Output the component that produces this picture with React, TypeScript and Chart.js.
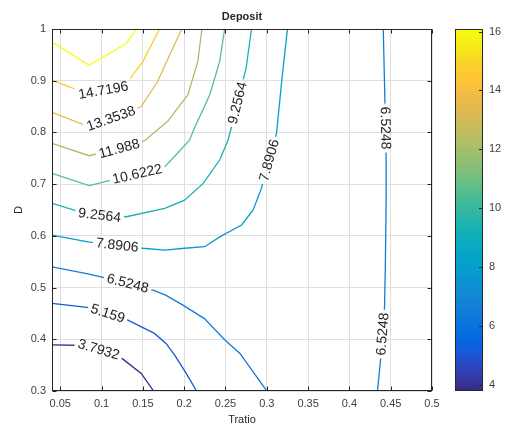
import { useEffect, useRef } from "react";
import { Chart, registerables } from "chart.js";

Chart.register(...registerables);

// ---------- data ----------
const TITLE = "Deposit";
const X_LABEL = "Tratio";
const Y_LABEL = "D";
const X_MIN = 0.04;
const X_MAX = 0.5;
const Y_MIN = 0.3;
const Y_MAX = 1;
const X_TICKS = [0.05, 0.1, 0.15, 0.2, 0.25, 0.3, 0.35, 0.4, 0.45, 0.5];
const Y_TICKS = [0.3, 0.4, 0.5, 0.6, 0.7, 0.8, 0.9, 1];
const CB_MIN = 3.7932;
const CB_MAX = 16.0854;
const CB_TICKS = [4, 6, 8, 10, 12, 14, 16];
const LEVELS = [3.7932, 5.159, 6.5248, 7.8906, 9.2564, 10.6222, 11.988, 13.3538, 14.7196, 16.0854];

// contour lines (Tratio, D)
const c3793X = [0.04, 0.085, 0.1255, 0.148, 0.163];
const c3793Y = [0.389, 0.388, 0.362, 0.334, 0.3];
const c5159X = [0.04, 0.085, 0.13, 0.164, 0.178, 0.1885, 0.2025, 0.215];
const c5159Y = [0.4695, 0.4613, 0.4385, 0.4114, 0.392, 0.3694, 0.334, 0.3];
const c6525aX = [0.04, 0.085, 0.13, 0.164, 0.1775, 0.1985, 0.2245, 0.249, 0.2675, 0.3];
const c6525aY = [0.54, 0.526, 0.509, 0.494, 0.4855, 0.466, 0.44, 0.399, 0.3727, 0.3];
const c6525bX = [0.441, 0.443, 0.4445, 0.4445, 0.4435, 0.4425, 0.4375, 0.434];
const c6525bY = [1.0, 0.86, 0.75, 0.67, 0.54, 0.46, 0.356, 0.3];
const c7891X = [0.04, 0.085, 0.13, 0.15, 0.1765, 0.2005, 0.225, 0.243, 0.2695, 0.2835, 0.2935, 0.3118, 0.3178, 0.325];
const c7891Y = [0.6015, 0.588, 0.58, 0.576, 0.5725, 0.576, 0.579, 0.598, 0.621, 0.65, 0.692, 0.798, 0.895, 1.0];
const c9256X = [0.04, 0.085, 0.13, 0.1765, 0.2005, 0.223, 0.243, 0.253, 0.257, 0.275, 0.2815];
const c9256Y = [0.663, 0.641, 0.637, 0.653, 0.669, 0.7015, 0.7466, 0.785, 0.8085, 0.9246, 1.0];
const c10622X = [0.04, 0.085, 0.13, 0.1745, 0.1885, 0.2065, 0.2125, 0.231, 0.243, 0.249];
const c10622Y = [0.721, 0.697, 0.715, 0.7305, 0.754, 0.785, 0.8085, 0.873, 0.9375, 1.0];
const c11988X = [0.04, 0.085, 0.13, 0.152, 0.18, 0.2045, 0.2165, 0.2215];
const c11988Y = [0.779, 0.755, 0.772, 0.784, 0.8215, 0.873, 0.9375, 1.0];
const c13354X = [0.04, 0.085, 0.13, 0.148, 0.168, 0.1845, 0.197];
const c13354Y = [0.839, 0.811, 0.838, 0.85, 0.899, 0.957, 1.0];
const c14720X = [0.04, 0.085, 0.13, 0.15, 0.17];
const c14720Y = [0.901, 0.873, 0.895, 0.937, 1.0];
const c16085X = [0.04, 0.085, 0.13, 0.142];
const c16085Y = [0.975, 0.93, 0.972, 1.0];

// contour label anchors (which piece, approximate position)
const LABEL_PIECE = [0, 1, 2, 3, 3, 4, 4, 5, 5, 6, 7, 8, 9];
const LABEL_X = [0.0952, 0.1073, 0.1315, 0.4445, 0.4406, 0.1188, 0.3052, 0.0976, 0.2642, 0.1448, 0.1218, 0.1121, 0.1024];
const LABEL_Y = [0.375, 0.449, 0.507, 0.8085, 0.41, 0.581, 0.745, 0.639, 0.857, 0.708, 0.766, 0.824, 0.88];

const CONTOURS = [
  { level: 0, xs: c3793X, ys: c3793Y },
  { level: 1, xs: c5159X, ys: c5159Y },
  { level: 2, xs: c6525aX, ys: c6525aY },
  { level: 2, xs: c6525bX, ys: c6525bY },
  { level: 3, xs: c7891X, ys: c7891Y },
  { level: 4, xs: c9256X, ys: c9256Y },
  { level: 5, xs: c10622X, ys: c10622Y },
  { level: 6, xs: c11988X, ys: c11988Y },
  { level: 7, xs: c13354X, ys: c13354Y },
  { level: 8, xs: c14720X, ys: c14720Y },
  { level: 9, xs: c16085X, ys: c16085Y },
];

// ---------- style ----------
const FONT = "'Liberation Sans', Arial, Helvetica, sans-serif";
const AXIS_COLOR = "#262626";
const TICK_COLOR = "#404040";
const GRID_COLOR = "#dfdfdf";
const LABEL_FONT = `14px ${FONT}`;
const LABEL_COLOR = "#1e1e1e";

const PARULA = [
  [0.2081, 0.1663, 0.5292], [0.2081, 0.2386, 0.6771], [0.1253, 0.3242, 0.8303],
  [0.006, 0.4086, 0.8828], [0.0498, 0.4586, 0.8641], [0.0779, 0.504, 0.8384],
  [0.0641, 0.557, 0.824], [0.0265, 0.6137, 0.8135], [0.0228, 0.6535, 0.7768],
  [0.059, 0.6838, 0.7254], [0.1453, 0.7098, 0.6646], [0.2586, 0.7317, 0.5954],
  [0.3953, 0.7459, 0.5244], [0.53, 0.7491, 0.4661], [0.6473, 0.7456, 0.4188],
  [0.7525, 0.7384, 0.3768], [0.8507, 0.7299, 0.336], [0.945, 0.7261, 0.2886],
  [0.999, 0.7653, 0.2164], [0.9789, 0.8271, 0.1633], [0.9598, 0.9218, 0.0948],
  [0.9763, 0.9831, 0.0538],
];

function cmap(t: number): string {
  const tt = Math.max(0, Math.min(1, t)) * (PARULA.length - 1);
  const i = Math.min(PARULA.length - 2, Math.floor(tt));
  const f = tt - i;
  const a = PARULA[i];
  const b = PARULA[i + 1];
  const c = [0, 1, 2].map((k) => Math.round((a[k] + (b[k] - a[k]) * f) * 255));
  return `rgb(${c[0]},${c[1]},${c[2]})`;
}

function levelColor(v: number) {
  return cmap((v - CB_MIN) / (CB_MAX - CB_MIN));
}

function fmt(v: number) {
  return String(Number(Number(v).toFixed(4)));
}

type Pt = { x: number; y: number };
type Lab = { x: number; y: number; ang: number; w: number; text: string };

function pointAt(pts: Pt[], cum: number[], s: number): Pt {
  const total = cum[cum.length - 1];
  const ss = Math.max(0, Math.min(total, s));
  for (let i = 1; i < pts.length; i++) {
    if (ss <= cum[i] || i === pts.length - 1) {
      const seg = cum[i] - cum[i - 1] || 1;
      const t = (ss - cum[i - 1]) / seg;
      return { x: pts[i - 1].x + (pts[i].x - pts[i - 1].x) * t, y: pts[i - 1].y + (pts[i].y - pts[i - 1].y) * t };
    }
  }
  return pts[0];
}

function layoutLabels(chart: any): Lab[] {
  const sx = chart.scales.x;
  const sy = chart.scales.y;
  const ctx = chart.ctx as CanvasRenderingContext2D;
  ctx.save();
  ctx.font = LABEL_FONT;
  const out = LABEL_PIECE.map((p, k) => {
    const c = CONTOURS[p];
    const pts: Pt[] = c.xs.map((v, i) => ({ x: sx.getPixelForValue(v), y: sy.getPixelForValue(c.ys[i]) }));
    const cum = [0];
    for (let i = 1; i < pts.length; i++) cum.push(cum[i - 1] + Math.hypot(pts[i].x - pts[i - 1].x, pts[i].y - pts[i - 1].y));
    const tx = sx.getPixelForValue(LABEL_X[k]);
    const ty = sy.getPixelForValue(LABEL_Y[k]);
    let bestD = Infinity;
    let bestS = 0;
    for (let i = 1; i < pts.length; i++) {
      const a = pts[i - 1];
      const b = pts[i];
      const dx = b.x - a.x;
      const dy = b.y - a.y;
      const L2 = dx * dx + dy * dy || 1;
      let t = ((tx - a.x) * dx + (ty - a.y) * dy) / L2;
      t = Math.max(0, Math.min(1, t));
      const d = Math.hypot(tx - (a.x + dx * t), ty - (a.y + dy * t));
      if (d < bestD) {
        bestD = d;
        bestS = cum[i - 1] + t * Math.sqrt(L2);
      }
    }
    const text = fmt(LEVELS[c.level]);
    const w = ctx.measureText(text).width;
    const ctr = pointAt(pts, cum, bestS);
    const a = pointAt(pts, cum, bestS - w / 2);
    const b = pointAt(pts, cum, bestS + w / 2);
    let ang = Math.atan2(b.y - a.y, b.x - a.x);
    if (ang > Math.PI / 2) ang -= Math.PI;
    if (ang <= -Math.PI / 2) ang += Math.PI;
    return { x: ctr.x, y: ctr.y, ang, w, text };
  });
  ctx.restore();
  return out;
}

const decorPlugin = {
  id: "contourDecor",
  beforeDatasetsDraw(chart: any) {
    const labels = layoutLabels(chart);
    chart.$contourLabels = labels;
    const ctx = chart.ctx as CanvasRenderingContext2D;
    ctx.save();
    ctx.beginPath();
    ctx.rect(0, 0, chart.width, chart.height);
    for (const l of labels) {
      const hw = l.w / 2 + 3;
      const hh = 8;
      const cs = Math.cos(l.ang);
      const sn = Math.sin(l.ang);
      const corners = [[-hw, -hh], [hw, -hh], [hw, hh], [-hw, hh]].map(([u, v]) => [l.x + u * cs - v * sn, l.y + u * sn + v * cs]);
      ctx.moveTo(corners[0][0], corners[0][1]);
      for (let i = 1; i < 4; i++) ctx.lineTo(corners[i][0], corners[i][1]);
      ctx.closePath();
    }
    ctx.clip("evenodd");
  },
  afterDatasetsDraw(chart: any) {
    const ctx = chart.ctx as CanvasRenderingContext2D;
    ctx.restore();
    const labels: Lab[] = chart.$contourLabels || [];
    // contour labels
    ctx.save();
    ctx.font = LABEL_FONT;
    ctx.fillStyle = LABEL_COLOR;
    ctx.textAlign = "center";
    ctx.textBaseline = "middle";
    for (const l of labels) {
      ctx.save();
      ctx.translate(l.x, l.y);
      ctx.rotate(l.ang);
      ctx.fillText(l.text, 0, 0.5);
      ctx.restore();
    }
    ctx.restore();

    // axes box + inward ticks
    const { left, right, top, bottom } = chart.chartArea;
    const sx = chart.scales.x;
    const sy = chart.scales.y;
    const L = Math.round(left) + 0.5;
    const R = Math.round(right) - 0.5;
    const T = Math.round(top) + 0.5;
    const B = Math.round(bottom) - 0.5;
    ctx.save();
    ctx.strokeStyle = AXIS_COLOR;
    ctx.lineWidth = 1;
    ctx.strokeRect(L, T, R - L, B - T);
    ctx.beginPath();
    for (const v of X_TICKS) {
      const px = Math.round(sx.getPixelForValue(v)) + 0.5;
      ctx.moveTo(px, B);
      ctx.lineTo(px, B - 4);
      ctx.moveTo(px, T);
      ctx.lineTo(px, T + 4);
    }
    for (const v of Y_TICKS) {
      const py = Math.round(sy.getPixelForValue(v)) + 0.5;
      ctx.moveTo(L, py);
      ctx.lineTo(L + 4, py);
      ctx.moveTo(R, py);
      ctx.lineTo(R - 4, py);
    }
    ctx.stroke();

    // colorbar
    const cb = chart.scales.cb;
    const x0 = Math.round(right) + 23;
    const cw = 28;
    const yTop = cb.getPixelForValue(CB_MAX);
    const yBot = cb.getPixelForValue(CB_MIN);
    const g = ctx.createLinearGradient(0, yBot, 0, yTop);
    const n = 40;
    for (let i = 0; i <= n; i++) g.addColorStop(i / n, cmap(i / n));
    ctx.fillStyle = g;
    ctx.fillRect(x0, yTop, cw, yBot - yTop);
    ctx.strokeRect(x0 + 0.5, Math.round(yTop) + 0.5, cw - 1, Math.round(yBot - yTop) - 1);
    ctx.beginPath();
    for (const v of CB_TICKS) {
      const py = Math.round(cb.getPixelForValue(v)) + 0.5;
      ctx.moveTo(x0 + cw - 0.5, py);
      ctx.lineTo(x0 + cw - 4, py);
    }
    ctx.stroke();
    ctx.restore();
  },
};

const noPad = (s: any) => {
  s.paddingTop = 0;
  s.paddingBottom = 0;
};

export default function App() {
  const ref = useRef<HTMLCanvasElement>(null);
  useEffect(() => {
    document.body.style.margin = "0";
    const canvas = ref.current!;
    const datasets = CONTOURS.map((c) => ({
      data: c.xs.map((x, i) => ({ x, y: c.ys[i] })),
      showLine: true,
      borderColor: levelColor(LEVELS[c.level]),
      backgroundColor: levelColor(LEVELS[c.level]),
      borderWidth: 1.3,
      pointRadius: 0,
      pointHoverRadius: 0,
      fill: false,
      tension: 0,
    }));
    const tickFont = { family: FONT, size: 11 };
    const chart = new Chart(canvas, {
      type: "scatter",
      data: { datasets },
      plugins: [decorPlugin],
      options: {
        responsive: false,
        animation: false,
        devicePixelRatio: 1,
        events: [],
        layout: { padding: 0 },
        plugins: {
          legend: { display: false },
          tooltip: { enabled: false },
          title: {
            display: true,
            text: TITLE,
            fullSize: false,
            color: AXIS_COLOR,
            font: { family: FONT, size: 11, weight: "bold" },
            padding: { top: 10.4, bottom: 5.4 },
          },
        },
        scales: {
          x: {
            type: "linear",
            position: "bottom",
            min: X_MIN,
            max: X_MAX,
            afterBuildTicks: (s: any) => {
              s.ticks = X_TICKS.map((v) => ({ value: v }));
            },
            afterFit: (s: any) => {
              s.height = 36;
            },
            ticks: { callback: (v: any) => fmt(v), padding: 6, color: TICK_COLOR, font: tickFont, maxRotation: 0, autoSkip: false },
            grid: { color: GRID_COLOR, drawTicks: false, lineWidth: 1 },
            border: { display: false },
            title: { display: true, text: X_LABEL, color: AXIS_COLOR, font: tickFont, padding: { top: 0, bottom: 0.5 } },
          },
          y: {
            type: "linear",
            position: "left",
            min: Y_MIN,
            max: Y_MAX,
            afterBuildTicks: (s: any) => {
              s.ticks = Y_TICKS.map((v) => ({ value: v }));
            },
            afterFit: (s: any) => {
              s.width = 52;
              noPad(s);
            },
            ticks: { callback: (v: any) => fmt(v), padding: 6, color: TICK_COLOR, font: tickFont, autoSkip: false },
            grid: { color: GRID_COLOR, drawTicks: false, lineWidth: 1 },
            border: { display: false },
            title: { display: true, text: Y_LABEL, color: AXIS_COLOR, font: tickFont, padding: { top: 12, bottom: 0 } },
          },
          cb: {
            type: "linear",
            position: "right",
            min: CB_MIN,
            max: CB_MAX,
            afterBuildTicks: (s: any) => {
              s.ticks = CB_TICKS.map((v) => ({ value: v }));
            },
            afterFit: (s: any) => {
              s.width = 75;
              noPad(s);
            },
            ticks: { callback: (v: any) => fmt(v), padding: 57, color: TICK_COLOR, font: tickFont, autoSkip: false },
            grid: { display: false, drawTicks: false },
            border: { display: false },
          },
        },
      } as any,
    });
    return () => chart.destroy();
  }, []);
  return (
    <div style={{ width: 507, height: 427 }}>
      <canvas ref={ref} width={507} height={427} style={{ display: "block" }} />
    </div>
  );
}
